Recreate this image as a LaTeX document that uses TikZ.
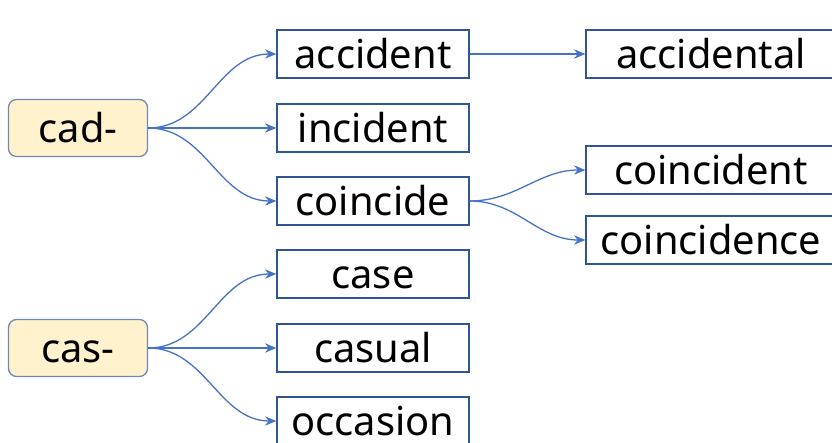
\documentclass[tikz,border=0pt]{standalone}
\usepackage{fontspec}
\setmainfont{Noto Sans}
\usetikzlibrary{arrows.meta}
\definecolor{rootfill}{HTML}{FFF2CC}
\definecolor{rootline}{HTML}{6F8AB7}
\definecolor{boxline}{HTML}{2F5597}
\definecolor{linkcol}{HTML}{4472C4}
\begin{document}
\begin{tikzpicture}[x=0.3mm,y=0.3mm,
    every node/.style={font=\fontsize{34}{40}\selectfont, inner sep=0pt, text height=31pt, text depth=7pt},
    rootbox/.style={draw=rootline, fill=rootfill, line width=1.1pt, rounded corners=2.4mm, minimum width=41.7mm, minimum height=17.1mm},
    wordbox/.style={draw=boxline, line width=1.1pt, minimum width=57.6mm, minimum height=14.4mm},
    widebox/.style={wordbox, minimum width=75mm},
    link/.style={draw=linkcol, line width=1.1pt, -{Stealth[length=3.4mm, width=2.8mm]}}]
    \def\colone{373}
    \def\coltwo{711}

    \clip (0,0) rectangle (832,443);
    \fill[white] (0,0) rectangle (832,443);

    % Prefix nodes
    \node[rootbox] (cad) at (78,315) {cad-};
    \node[rootbox] (cas) at (78,95) {cas-};

    % First column of words
    \foreach \name/\y in {accident/389, incident/315, coincide/242, case/169, casual/95, occasion/22} {
        \node[wordbox] (\name) at (\colone,\y) {\name};
    }

    % Second column of words
    \foreach \name/\y in {accidental/389, coincident/273, coincidence/203} {
        \node[widebox] (\name) at (\coltwo,\y) {\name};
    }

    % Links
    \foreach \child in {accident, incident, coincide} {
        \draw[link] (cad.east) to[out=0, in=180] (\child.west);
    }
    \foreach \child in {case, casual, occasion} {
        \draw[link] (cas.east) to[out=0, in=180] (\child.west);
    }
    \draw[link] (accident.east) -- (accidental.west);
    \foreach \child in {coincident, coincidence} {
        \draw[link] (coincide.east) to[out=0, in=180] (\child.west);
    }

\end{tikzpicture}
\end{document}
